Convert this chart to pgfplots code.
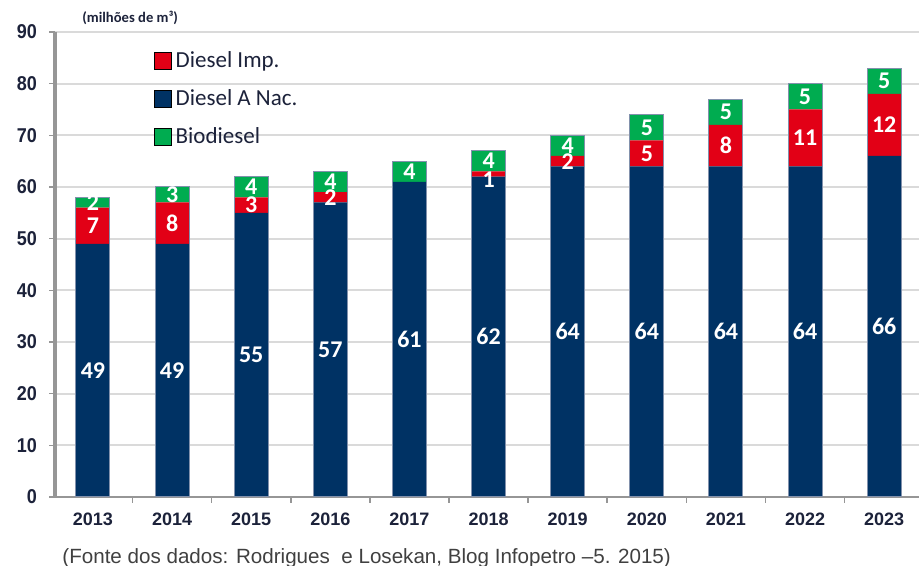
\documentclass[border=0pt]{standalone}
\usepackage{pgfplots}
\pgfplotsset{compat=1.18}
\usepackage{pgfplotstable}
\usepackage{fontspec}
\setmainfont{Liberation Sans}
\newfontfamily\calib{Carlito}
\newfontfamily\narrow[FakeStretch=0.9]{Liberation Sans}
\definecolor{navy}{RGB}{0,50,100}
\definecolor{dred}{RGB}{226,0,22}
\definecolor{dgreen}{RGB}{0,172,80}
\definecolor{txt}{RGB}{28,34,58}
\definecolor{gridc}{RGB}{218,218,218}
\definecolor{axc}{RGB}{150,150,150}
\definecolor{outl}{RGB}{130,145,172}

\pgfplotstableread{
x nac imp bio tot
0 49 7 2 58
1 49 8 3 60
2 55 3 4 62
3 57 2 4 63
4 61 0 4 65
5 62 1 4 67
6 64 2 4 70
7 64 5 5 74
8 64 8 5 77
9 64 11 5 80
10 66 12 5 83
}\data

% label positions (segment centres)
\pgfplotstableread{
x y lab
0 24.5 49
1 24.5 49
2 27.5 55
3 28.5 57
4 30.5 61
5 31 62
6 32 64
7 32 64
8 32 64
9 32 64
10 33 66
}\labnac
\pgfplotstableread{
x y lab
0 52.5 7
1 53 8
2 56.5 3
3 58 2
5 61.5 1
6 65 2
7 66.5 5
8 68 8
9 69.5 11
10 72 12
}\labimp
\pgfplotstableread{
x y lab
0 57 2
1 58.5 3
2 60 4
3 61 4
4 63 4
5 65 4
6 68 4
7 71.5 5
8 74.5 5
9 77.5 5
10 80.5 5
}\labbio

\begin{document}
\begin{tikzpicture}
\path[use as bounding box] (-27.5pt,-34.5pt) rectangle (432pt,248.5pt);
\begin{axis}[
  at={(0pt,0pt)}, anchor=south west,
  scale only axis, width=432pt, height=232.5pt,
  xmin=-0.48, xmax=10.44, ymin=0, ymax=90,
  ybar stacked, bar width=17pt,
  axis x line*=bottom, axis y line*=left,
  x axis line style={draw=axc, line width=0.9pt, -},
  y axis line style={draw=axc, line width=1.6pt, -},
  ymajorgrids, grid style={draw=gridc, line width=0.9pt},
  ytick={0,10,...,90},
  xtick={0,...,10},
  xticklabels={2013,2014,2015,2016,2017,2018,2019,2020,2021,2022,2023},
  minor xtick={0.5,1.5,...,9.5},
  tick align=outside,
  major tick length=3pt, minor tick length=3pt,
  every major x tick/.style={draw=none},
  every minor x tick/.style={draw=axc, line width=0.8pt},
  y tick style={draw=axc, line width=0.8pt},
  /pgf/number format/assume math mode=true,
  yticklabel style={font=\narrow\bfseries\fontsize{10}{11}\selectfont, text=txt, xshift=-2.5pt},
  xticklabel style={font=\bfseries\fontsize{9}{10}\selectfont, text=txt, yshift=-1.5pt},
]
\addplot[fill=navy, draw=none] table[x=x, y=nac]{\data};
\addplot[fill=dred, draw=none] table[x=x, y=imp]{\data};
\addplot[fill=dgreen, draw=none] table[x=x, y=bio]{\data};
\end{axis}
\begin{axis}[
  at={(0pt,0pt)}, anchor=south west,
  scale only axis, width=432pt, height=232.5pt,
  xmin=-0.48, xmax=10.44, ymin=0, ymax=90,
  hide axis, clip=false,
  legend style={at={(0.114,0.968)}, anchor=north west, draw=none, fill=none,
    font=\calib\fontsize{11.5}{12}\selectfont, text=txt, row sep=5.5pt,
    inner sep=0pt},
  legend cell align=left,
  legend image code/.code={\fill[#1] (0pt,-4.25pt) rectangle (8.5pt,4.25pt);},
  nodes near coords style={anchor=center, inner sep=0pt, text=white,
    font=\calib\bfseries\fontsize{12}{12}\selectfont},
]
\addlegendimage{fill=dred}
\addlegendentry{Diesel Imp.}
\addlegendimage{fill=navy}
\addlegendentry{Diesel A Nac.}
\addlegendimage{fill=dgreen}
\addlegendentry{Biodiesel}
\addplot[ybar, bar width=17pt, bar shift=0pt, fill=none, draw=outl, line width=0.5pt, forget plot] table[x=x, y=tot]{\data};
\addplot[only marks, mark=none, nodes near coords, point meta=explicit symbolic, forget plot] table[x=x, y=y, meta=lab]{\labnac};
\addplot[only marks, mark=none, nodes near coords, point meta=explicit symbolic, forget plot] table[x=x, y=y, meta=lab]{\labimp};
\addplot[only marks, mark=none, nodes near coords, point meta=explicit symbolic, forget plot] table[x=x, y=y, meta=lab]{\labbio};
\node[anchor=center, font=\calib\bfseries\fontsize{7.3}{8}\selectfont, text=txt] at (rel axis cs:0.087,1.03) {(milhões de m³)};
\node[anchor=base west, inner sep=0pt, font=\fontsize{10.3}{11}\selectfont, text=black!75] at (rel axis cs:0.0081,-0.144) {(Fonte dos dados: Rodrigues\ \ e Losekan, Blog Infopetro –5. 2015)};
\end{axis}
\end{tikzpicture}
\end{document}
